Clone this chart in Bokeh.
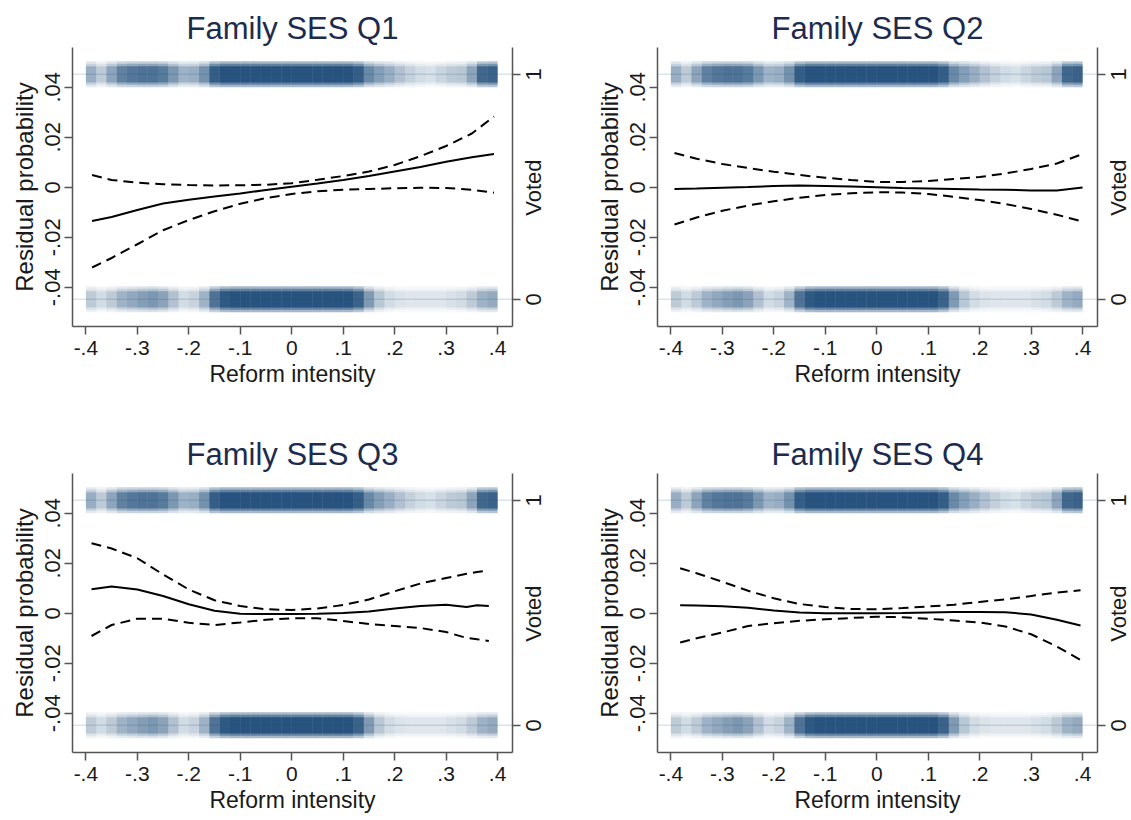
from bokeh.plotting import figure
from bokeh.models import Range1d, LinearAxis, FixedTicker, ColumnDataSource, Span
from bokeh.layouts import column, row
from bokeh.embed import file_html
from bokeh.resources import INLINE

# ---------------- data ----------------
titles = ["Family SES Q1", "Family SES Q2", "Family SES Q3", "Family SES Q4"]

x_ticks = [-0.4, -0.3, -0.2, -0.1, 0, 0.1, 0.2, 0.3, 0.4]
x_tick_labels = ["-.4", "-.3", "-.2", "-.1", "0", ".1", ".2", ".3", ".4"]
y_ticks = [-0.04, -0.02, 0, 0.02, 0.04]
y_tick_labels = ["-.04", "-.02", "0", ".02", ".04"]
voted_ticks = [0, 1]
voted_tick_labels = ["0", "1"]
voted_title = "Voted"

# Q1
q1_x = [-0.388, -0.35, -0.30, -0.25, -0.20, -0.15, -0.10, -0.05, 0.0, 0.05, 0.10, 0.15, 0.20, 0.25, 0.30, 0.35, 0.393]
q1_fit = [-0.0135, -0.0119, -0.0091, -0.0065, -0.0050, -0.0037, -0.0025, -0.0011, 0.0002, 0.0015, 0.0029, 0.0045, 0.0063, 0.0081, 0.0102, 0.0120, 0.0133]
q1_upper = [0.0049, 0.0029, 0.0018, 0.0012, 0.0009, 0.0007, 0.0008, 0.0010, 0.0016, 0.0030, 0.0045, 0.0063, 0.0089, 0.0124, 0.0165, 0.0215, 0.0283]
q1_lower = [-0.0321, -0.0283, -0.0228, -0.0172, -0.0131, -0.0096, -0.0066, -0.0043, -0.0027, -0.0016, -0.0010, -0.0007, -0.0004, -0.0002, -0.0003, -0.0010, -0.0022]

# Q2
q2_x = [-0.393, -0.35, -0.30, -0.25, -0.20, -0.15, -0.10, -0.05, 0.0, 0.05, 0.10, 0.15, 0.20, 0.25, 0.30, 0.35, 0.40]
q2_fit = [-0.0007, -0.0005, -0.0002, 0.0001, 0.0005, 0.0007, 0.0005, 0.0003, 0.0000, -0.0003, -0.0005, -0.0007, -0.0009, -0.0010, -0.0013, -0.0013, -0.0001]
q2_upper = [0.0137, 0.0114, 0.0093, 0.0077, 0.0062, 0.0049, 0.0038, 0.0029, 0.0021, 0.0021, 0.0025, 0.0033, 0.0041, 0.0055, 0.0073, 0.0095, 0.0133]
q2_lower = [-0.0149, -0.0121, -0.0094, -0.0073, -0.0056, -0.0042, -0.0031, -0.0024, -0.0020, -0.0021, -0.0027, -0.0038, -0.0051, -0.0067, -0.0087, -0.0110, -0.0137]

# Q3
q3_x = [-0.389, -0.35, -0.30, -0.25, -0.20, -0.15, -0.10, -0.05, 0.0, 0.05, 0.10, 0.15, 0.20, 0.25, 0.30, 0.34, 0.36, 0.383]
q3_fit = [0.0096, 0.0107, 0.0095, 0.0069, 0.0036, 0.0010, -0.0002, -0.0003, -0.0003, -0.0002, 0.0001, 0.0007, 0.0019, 0.0029, 0.0034, 0.0025, 0.0032, 0.0029]
q3_upper = [0.0280, 0.0259, 0.0220, 0.0155, 0.0095, 0.0052, 0.0029, 0.0016, 0.0013, 0.0019, 0.0033, 0.0055, 0.0088, 0.0119, 0.0141, 0.0158, 0.0165, 0.0171]
q3_lower = [-0.0091, -0.0047, -0.0022, -0.0022, -0.0038, -0.0047, -0.0037, -0.0026, -0.0020, -0.0020, -0.0031, -0.0043, -0.0051, -0.0059, -0.0075, -0.0099, -0.0104, -0.0111]

# Q4
q4_x = [-0.382, -0.35, -0.30, -0.25, -0.20, -0.15, -0.10, -0.05, 0.0, 0.05, 0.10, 0.15, 0.20, 0.25, 0.30, 0.35, 0.396]
q4_fit = [0.0032, 0.0031, 0.0028, 0.0022, 0.0011, 0.0003, 0.0000, 0.0000, 0.0000, 0.0001, 0.0003, 0.0005, 0.0005, 0.0004, -0.0005, -0.0026, -0.0049]
q4_upper = [0.0180, 0.0160, 0.0126, 0.0090, 0.0060, 0.0037, 0.0025, 0.0017, 0.0016, 0.0021, 0.0027, 0.0034, 0.0045, 0.0056, 0.0069, 0.0083, 0.0092]
q4_lower = [-0.0117, -0.0100, -0.0077, -0.0051, -0.0040, -0.0030, -0.0024, -0.0019, -0.0014, -0.0016, -0.0022, -0.0029, -0.0037, -0.0053, -0.0084, -0.0133, -0.0187]

# density of the jittered observations (voted = 1 / voted = 0), by reform-intensity bin
bin_centers = [-0.39, -0.37, -0.35, -0.33, -0.31, -0.29, -0.27, -0.25, -0.23, -0.21,
               -0.19, -0.17, -0.15, -0.13, -0.11, -0.09, -0.07, -0.05, -0.03, -0.01,
               0.01, 0.03, 0.05, 0.07, 0.09, 0.11, 0.13, 0.15, 0.17, 0.19,
               0.21, 0.23, 0.25, 0.27, 0.29, 0.31, 0.33, 0.35, 0.37, 0.39]
voted1_density = [0.30, 0.18, 0.35, 0.55, 0.62, 0.65, 0.65, 0.60, 0.42, 0.28,
                  0.30, 0.45, 0.85, 1.0, 1.0, 1.0, 1.0, 1.0, 1.0, 1.0,
                  1.0, 1.0, 1.0, 1.0, 1.0, 1.0, 0.85, 0.50, 0.38, 0.30,
                  0.22, 0.16, 0.12, 0.10, 0.14, 0.18, 0.20, 0.35, 0.75, 0.80]
voted0_density = [0.18, 0.12, 0.18, 0.28, 0.33, 0.38, 0.42, 0.36, 0.22, 0.12,
                  0.15, 0.28, 0.65, 0.92, 1.0, 1.0, 1.0, 1.0, 1.0, 1.0,
                  1.0, 1.0, 1.0, 1.0, 1.0, 1.0, 0.80, 0.40, 0.20, 0.12,
                  0.09, 0.08, 0.08, 0.08, 0.08, 0.10, 0.12, 0.18, 0.28, 0.32]

panels = [
    (titles[0], q1_x, q1_fit, q1_upper, q1_lower),
    (titles[1], q2_x, q2_fit, q2_upper, q2_lower),
    (titles[2], q3_x, q3_fit, q3_upper, q3_lower),
    (titles[3], q4_x, q4_fit, q4_upper, q4_lower),
]

# ---------------- style ----------------
FONT = "Liberation Sans"
AXIS_COLOR = "#555555"
TEXT_COLOR = "#1a1a1a"
TITLE_COLOR = "#1c2b4e"
DOT_COLOR = "#1d4b78"
BIN_W = 0.02
X_START, X_END = -0.426, 0.429
VOTED_START, VOTED_END = -0.121, 1.119
FRAME_W, FRAME_H = 440, 279
LAYERS = [(0.058, 0.40), (0.047, 0.50), (0.036, 0.85)]  # (half height in voted units, alpha factor)
RIGHT_LABEL_PX = 22
TEXT_EM = {"0": 0.556, "1": 0.556, "Voted": 2.613}   # approx. text length in em (Arial metrics)


def style_axis(ax, label_size="21px"):
    ax.axis_line_color = AXIS_COLOR
    ax.axis_line_width = 1.5
    ax.major_tick_line_color = AXIS_COLOR
    ax.major_tick_line_width = 1.5
    ax.major_tick_out = 8
    ax.major_tick_in = 0
    ax.minor_tick_line_color = None
    ax.major_label_text_font = FONT
    ax.major_label_text_font_size = label_size
    ax.major_label_text_color = TEXT_COLOR
    ax.major_label_standoff = 5
    ax.axis_label_text_font = FONT
    ax.axis_label_text_font_size = "23px"
    ax.axis_label_text_font_style = "normal"
    ax.axis_label_text_color = TEXT_COLOR


def make_panel(title, xs, fit, upper, lower, border_right, border_bottom):
    p = figure(frame_width=FRAME_W, frame_height=FRAME_H, output_backend="svg", toolbar_location=None,
               x_range=Range1d(X_START, X_END), y_range=Range1d(-0.0557, 0.0559),
               min_border_left=72, min_border_right=border_right,
               min_border_top=47, min_border_bottom=border_bottom)
    p.extra_y_ranges = {"voted": Range1d(VOTED_START, VOTED_END)}
    p.outline_line_color = None
    p.xgrid.visible = False
    p.ygrid.visible = False
    p.background_fill_color = "white"
    p.border_fill_color = "white"

    p.title.text = title
    p.title.text_font = FONT
    p.title.text_font_size = "31px"
    p.title.text_font_style = "normal"
    p.title.text_color = TITLE_COLOR
    p.title.align = "center"
    p.title.standoff = 4

    # scatter bands
    for val, dens in ((1, voted1_density), (0, voted0_density)):
        p.add_layout(Span(location=val, dimension="width", y_range_name="voted",
                          line_color="#d9e4eb", line_width=1.5, level="underlay"))
        for half, fac in LAYERS:
            src = ColumnDataSource(dict(
                left=[c - BIN_W / 2 for c in bin_centers],
                right=[c + BIN_W / 2 for c in bin_centers],
                top=[val + half] * len(bin_centers),
                bottom=[val - half] * len(bin_centers),
                alpha=[d * fac for d in dens],
            ))
            p.quad(left="left", right="right", top="top", bottom="bottom", source=src,
                   y_range_name="voted", fill_color=DOT_COLOR, fill_alpha="alpha",
                   line_color=None)

    p.line(xs, fit, line_color="black", line_width=2)
    p.line(xs, upper, line_color="black", line_width=2, line_dash="10 6")
    p.line(xs, lower, line_color="black", line_width=2, line_dash="10 6")

    style_axis(p.xaxis[0], "21px")
    p.xaxis.ticker = FixedTicker(ticks=x_ticks)
    p.xaxis.major_label_overrides = dict(zip(x_ticks, x_tick_labels))
    p.xaxis.axis_label = "Reform intensity"
    p.xaxis.axis_label_standoff = 3
    p.xaxis.major_label_standoff = 6

    style_axis(p.yaxis[0], "22px")
    p.yaxis.ticker = FixedTicker(ticks=y_ticks)
    p.yaxis.major_label_overrides = dict(zip(y_ticks, y_tick_labels))
    p.yaxis.major_label_orientation = "vertical"
    p.yaxis.axis_label = "Residual probability"
    p.yaxis.axis_label_text_font_size = "24px"
    p.yaxis.axis_label_standoff = 4

    # right axis: line + tick marks only
    rax = LinearAxis(y_range_name="voted", ticker=FixedTicker(ticks=voted_ticks))
    style_axis(rax, "22px")
    rax.major_label_text_font_size = "0px"
    rax.major_label_overrides = {t: "" for t in voted_ticks}
    rax.major_label_standoff = 0
    p.add_layout(rax, "right")

    # right axis texts: tick labels and axis title in one column (rotated, reading upwards).
    # Rotated labels start at their anchor, so anchors are moved down by half the text length.
    px_per_unit = FRAME_H / (VOTED_END - VOTED_START)
    title_pos = (VOTED_START + VOTED_END) / 2
    lab_pos = voted_ticks + [title_pos]
    lab_text = voted_tick_labels + [voted_title]
    lab_ticks = [pos - TEXT_EM[t] * RIGHT_LABEL_PX / 2 / px_per_unit for pos, t in zip(lab_pos, lab_text)]
    rlab = LinearAxis(y_range_name="voted", ticker=FixedTicker(ticks=lab_ticks))
    style_axis(rlab, f"{RIGHT_LABEL_PX}px")
    rlab.axis_line_color = None
    rlab.major_tick_line_color = None
    rlab.major_tick_out = 0
    rlab.major_label_standoff = 13
    rlab.major_label_orientation = 1.5708
    rlab.major_label_overrides = dict(zip(lab_ticks, lab_text))
    p.add_layout(rlab, "right")
    return p


p1 = make_panel(*panels[0], border_right=73, border_bottom=100)
p2 = make_panel(*panels[1], border_right=34, border_bottom=100)
p3 = make_panel(*panels[2], border_right=73, border_bottom=67)
p4 = make_panel(*panels[3], border_right=34, border_bottom=67)

layout = column(row(p1, p2), row(p3, p4))
open("out.html", "w").write(file_html(layout, INLINE))
